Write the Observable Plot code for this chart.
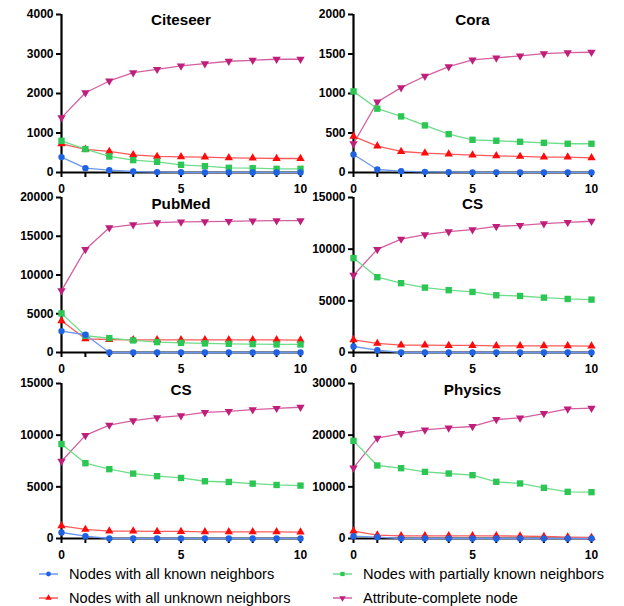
<!DOCTYPE html>
<html>
<head>
<meta charset="utf-8">
<script src="https://cdn.jsdelivr.net/npm/d3@7"></script>
<script src="https://cdn.jsdelivr.net/npm/@observablehq/plot@0.6"></script>
<style>
  html, body { margin: 0; padding: 0; background: #fff; }
  #chart { position: relative; width: 624px; height: 606px; font-family: "Liberation Sans", Arial, sans-serif; }
  #chart svg { overflow: visible; }
  .panel { position: absolute; }
  .leg { position: absolute; display: flex; align-items: center; font-size: 14.6px; color: #000; white-space: nowrap; }
  .leg svg { margin-right: 11px; }
</style>
</head>
<body>
<div id="chart"></div>
<script>
// ---- data ----
const steps = [0, 1, 2, 3, 4, 5, 6, 7, 8, 9, 10];
const seriesNames = ["Nodes with all known neighbors", "Nodes with partially known neighbors", "Nodes with all unknown neighbors", "Attribute-complete node"];

const citeseerKnown    = [390, 110, 60, 25, 10, 5, 3, 2, 2, 1, 1];
const citeseerPartial  = [803, 592, 406, 313, 271, 195, 161, 118, 110, 93, 93];
const citeseerUnknown  = [727, 584, 533, 448, 406, 397, 389, 372, 364, 355, 355];
const citeseerComplete = [1390, 2020, 2317, 2530, 2613, 2700, 2757, 2816, 2841, 2867, 2867];

const coraKnown    = [228, 38, 17, 8, 4, 2, 2, 1, 1, 1, 1];
const coraPartial  = [1027, 808, 710, 596, 486, 414, 402, 389, 376, 364, 364];
const coraUnknown  = [457, 334, 266, 245, 233, 220, 211, 203, 195, 195, 186];
const coraComplete = [364, 892, 1074, 1218, 1340, 1425, 1450, 1476, 1505, 1518, 1522];

const pubmedKnown    = [2760, 2290, 0, 0, 0, 0, 0, 0, 0, 0, 0];
const pubmedPartial  = [5050, 2160, 1860, 1560, 1340, 1250, 1170, 1120, 1080, 1040, 1040];
const pubmedUnknown  = [4100, 1770, 1680, 1640, 1640, 1640, 1640, 1640, 1640, 1630, 1600];
const pubmedComplete = [7990, 13300, 16110, 16500, 16760, 16850, 16890, 16930, 16980, 17020, 17020];

const csKnown    = [580, 225, 0, 0, 0, 0, 0, 0, 0, 0, 0];
const csPartial  = [9140, 7290, 6710, 6280, 6030, 5860, 5540, 5470, 5310, 5180, 5120];
const csUnknown  = [1230, 875, 710, 710, 680, 680, 650, 650, 650, 650, 615];
const csComplete = [7480, 9980, 10980, 11400, 11690, 11890, 12210, 12310, 12470, 12600, 12700];

const physicsKnown    = [450, 260, 0, 0, 0, 0, 0, 0, 0, 0, 0];
const physicsPartial  = [18900, 14130, 13610, 12900, 12580, 12260, 10970, 10650, 9810, 9030, 8970];
const physicsUnknown  = [1420, 650, 520, 520, 520, 520, 520, 450, 390, 260, 190];
const physicsComplete = [13680, 19420, 20320, 21030, 21420, 21680, 23030, 23350, 24190, 25100, 25230];

const panelTitles = ["Citeseer", "Cora", "PubMed", "CS", "CS", "Physics"];
const yTicksCiteseer = [0, 1000, 2000, 3000, 4000];
const yTicksCora     = [0, 500, 1000, 1500, 2000];
const yTicksPubmed   = [0, 5000, 10000, 15000, 20000];
const yTicksCS       = [0, 5000, 10000, 15000];
const yTicksPhysics  = [0, 10000, 20000, 30000];
const xLabelTicks = [0, 5, 10];

// ---- styles ----
const styles = [
  {fill: "#1f63e3", line: "#6b97ee", symbol: "circle",   r: 3.2, rotate: 0},
  {fill: "#2bc653", line: "#6fdc8a", symbol: "square",   r: 3.6, rotate: 0},
  {fill: "#ff0a0a", line: "#ff5a5a", symbol: "triangle", r: 3.1, rotate: 0},
  {fill: "#bf1f7b", line: "#d45fa0", symbol: "triangle", r: 3.1, rotate: 180}
];
const drawOrder = [3, 2, 1, 0];

const panels = [
  {title: panelTitles[0], series: [citeseerKnown, citeseerPartial, citeseerUnknown, citeseerComplete], yTicks: yTicksCiteseer, left: 0,   top: 0,   h: 190, ml: 61, mr: 12, td: 6},
  {title: panelTitles[1], series: [coraKnown, coraPartial, coraUnknown, coraComplete],                 yTicks: yTicksCora,     left: 312, top: 0,   h: 190, ml: 41, mr: 33, td: 6},
  {title: panelTitles[2], series: [pubmedKnown, pubmedPartial, pubmedUnknown, pubmedComplete],         yTicks: yTicksPubmed,   left: 0,   top: 183, h: 187, ml: 61, mr: 12, td: 7},
  {title: panelTitles[3], series: [csKnown, csPartial, csUnknown, csComplete],                         yTicks: yTicksCS,       left: 312, top: 183, h: 187, ml: 41, mr: 33, td: 7},
  {title: panelTitles[4], series: [csKnown, csPartial, csUnknown, csComplete],                         yTicks: yTicksCS,       left: 0,   top: 369, h: 187, ml: 61, mr: 12, td: 7},
  {title: panelTitles[5], series: [physicsKnown, physicsPartial, physicsUnknown, physicsComplete],     yTicks: yTicksPhysics,  left: 312, top: 369, h: 187, ml: 41, mr: 33, td: 7}
];

const chart = document.getElementById("chart");

for (const p of panels) {
  const ymax = p.yTicks[p.yTicks.length - 1];
  const marks = [];
  for (const si of drawOrder) {
    const st = styles[si];
    const rows = steps.map((s, i) => ({step: s, value: p.series[si][i]}));
    marks.push(Plot.line(rows, {x: "step", y: "value", stroke: st.line, strokeWidth: 1.3}));
  }
  for (const si of drawOrder) {
    const st = styles[si];
    const rows = steps.map((s, i) => ({step: s, value: p.series[si][i]}));
    marks.push(Plot.dot(rows, {x: "step", y: "value", fill: st.fill, symbol: st.symbol, r: st.r, rotate: st.rotate, stroke: "none"}));
  }
  const svg = Plot.plot({
    width: 312,
    height: p.h,
    marginLeft: p.ml,
    marginRight: p.mr,
    marginTop: 14,
    marginBottom: 18,
    style: {fontFamily: "'Liberation Sans', Arial, sans-serif", fontSize: "12px", fontWeight: "bold", color: "#000", background: "transparent"},
    x: {domain: [0, 10], axis: null},
    y: {domain: [0, ymax], axis: null},
    marks: [
      Plot.axisY({ticks: p.yTicks, label: null, tickSize: 5, tickPadding: 3, strokeWidth: 2, tickFormat: d3.format("d"), fontWeight: "bold", fontSize: 12}),
      Plot.axisX({ticks: steps, label: null, tickSize: 5, tickPadding: 7, strokeWidth: 2, tickFormat: d => xLabelTicks.includes(d) ? String(d) : "", fontWeight: "bold", fontSize: 12}),
      Plot.ruleX([0], {y1: 0, y2: ymax, stroke: "#000", strokeWidth: 2.2}),
      Plot.ruleY([0], {x1: 0, x2: 10, stroke: "#000", strokeWidth: 2.2}),
      ...marks,
      Plot.text([p.title], {text: d => d, frameAnchor: "top", dy: p.td, lineAnchor: "middle", fontSize: 15.2, fontWeight: "bold", fill: "#000"})
    ]
  });
  const wrap = document.createElement("div");
  wrap.className = "panel";
  wrap.style.left = p.left + "px";
  wrap.style.top = p.top + "px";
  wrap.appendChild(svg);
  chart.appendChild(wrap);
}

// ---- legend ----
const legendItems = [
  {si: 0, left: 39,  top: 574},
  {si: 1, left: 333, top: 574},
  {si: 2, left: 39,  top: 598},
  {si: 3, left: 333, top: 598}
];
for (const it of legendItems) {
  const st = styles[it.si];
  const el = document.createElement("div");
  el.className = "leg";
  el.style.left = it.left + "px";
  el.style.top = (it.top - 10) + "px";
  el.style.height = "20px";
  const sym = d3.symbol(st.symbol === "circle" ? d3.symbolCircle : st.symbol === "square" ? d3.symbolSquare : d3.symbolTriangle, 18)();
  el.innerHTML = `<svg width="19" height="10" viewBox="0 0 19 10"><line x1="0" x2="19" y1="5" y2="5" stroke="${st.line}" stroke-width="1.5"/><path d="${sym}" transform="translate(9.5,5) rotate(${st.rotate})" fill="${st.fill}"/></svg><span></span>`;
  el.querySelector("span").textContent = seriesNames[it.si];
  chart.appendChild(el);
}
</script>
</body>
</html>
